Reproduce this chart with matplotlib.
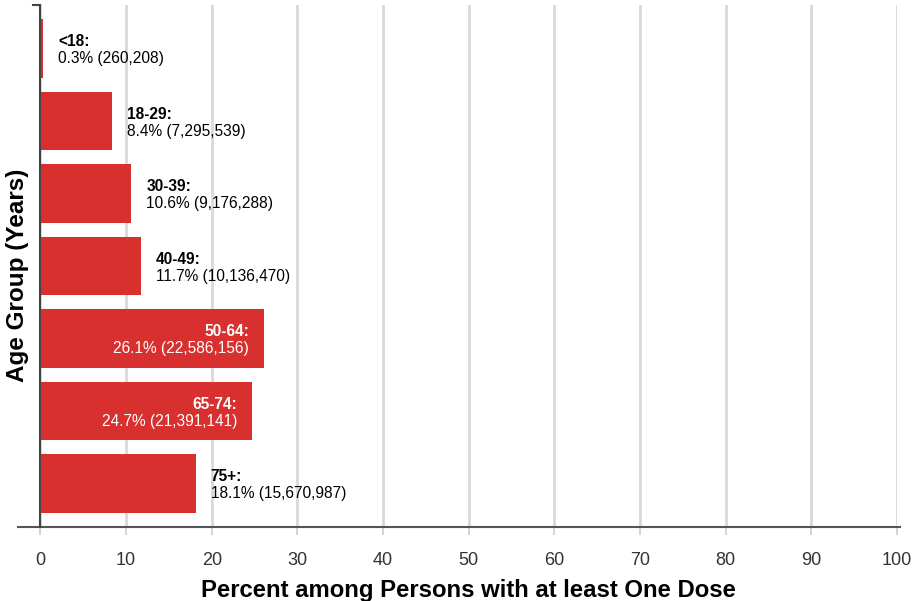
import matplotlib.pyplot as plt
from matplotlib.lines import Line2D

plt.rcParams['font.family'] = ['Liberation Sans', 'DejaVu Sans']

# data
groups = ['<18', '18-29', '30-39', '40-49', '50-64', '65-74', '75+']
pct = [0.3, 8.4, 10.6, 11.7, 26.1, 24.7, 18.1]
counts = ['260,208', '7,295,539', '9,176,288', '10,136,470',
          '22,586,156', '21,391,141', '15,670,987']
xticks = [0, 10, 20, 30, 40, 50, 60, 70, 80, 90, 100]

red = '#d7302f'
fig = plt.figure(figsize=(9.14, 6.01), dpi=100)
ax = fig.add_axes([0.0443, 0.1231, 0.9371, 0.8686])

ypos = list(range(len(groups)))
ax.barh(ypos, pct, height=0.81, color=red, zorder=3)
ax.set_ylim(6.6, -0.6)
ax.set_xlim(0, 100)

# px -> data units for the label offset
px = 100 / 856.5
for y, p, g, c in zip(ypos, pct, groups, counts):
    if p > 20:
        x, ha, col = p - 15 * px, 'right', 'white'
    else:
        x, ha, col = p + 15 * px, 'left', 'black'
    ax.text(x, y + 0.01, g + ':', ha=ha, va='bottom', color=col,
            fontsize=11.2, fontweight='bold', zorder=4)
    ax.text(x, y + 0.04, '%.1f%% (%s)' % (p, c), ha=ha, va='top', color=col,
            fontsize=11.2, zorder=4)

ax.set_xticks(xticks)
ax.set_yticks([])
ax.grid(axis='x', color='#d9d9d9', linewidth=2, zorder=0)
for s in ['top', 'right', 'bottom']:
    ax.spines[s].set_visible(False)
ax.spines['left'].set_color('#444444')
ax.spines['left'].set_linewidth(1.5)
ax.spines['left'].set_zorder(5)
ax.tick_params(axis='x', length=6, width=1.2, color='#cccccc', pad=12,
               labelsize=13, labelcolor='#333333')
ticks = ax.xaxis.get_major_ticks()
ticks[0].tick1line.set_color('#444444')
ticks[-1].tick1line.set_color('#444444')

# bottom axis line running past the left spine, and the cap on the spine top
ax.add_line(Line2D([-0.026, 1.004], [0, 0], transform=ax.transAxes,
                   color='#555555', linewidth=1.5, clip_on=False, zorder=5))
ax.add_line(Line2D([-0.009, 0], [1, 1], transform=ax.transAxes,
                   color='#444444', linewidth=1.5, clip_on=False, zorder=5))

ax.set_xlabel('Percent among Persons with at least One Dose', fontsize=17.2,
              fontweight='bold', labelpad=7)
ax.set_ylabel('Age Group (Years)', fontsize=17.5, fontweight='bold')
ax.yaxis.set_label_coords(-0.013, 0.483)

fig.savefig('out.png', dpi=100)
